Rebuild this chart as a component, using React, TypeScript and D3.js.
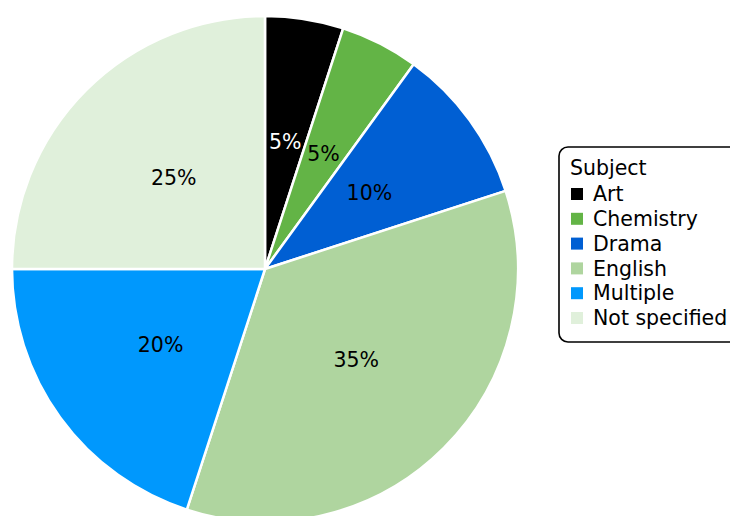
import React from "react";
import * as d3 from "d3";

const categories = ["Art", "Chemistry", "Drama", "English", "Multiple", "Not specified"];
const values = [5, 5, 10, 35, 20, 25];
const colors = ["#000000", "#63b446", "#005fd3", "#afd59f", "#0098fd", "#e0f0db"];
const labelColors = ["#ffffff", "#000000", "#000000", "#000000", "#000000", "#000000"];
const legendTitle = "Subject";

export default function App() {
  const W = 730, H = 516;
  const cx = 265, cy = 269, r = 253;
  const data = categories.map((c, i) => ({ c, v: values[i], i }));
  const pie = d3.pie<any>().value((d) => d.v).sort(null);
  const arcs = pie(data);
  const arc = d3.arc<any>().innerRadius(0).outerRadius(r);
  const labelArc = d3.arc<any>().innerRadius(r * 0.51).outerRadius(r * 0.51);
  const font = "'DejaVu Sans', sans-serif";
  const fs = 20.5;
  const lx = 559, ly = 147;
  return (
    <svg width={W} height={H} style={{ position: "absolute", left: 0, top: 0 }}>
      <g transform={`translate(${cx},${cy})`}>
        {arcs.map((a, i) => (
          <path key={i} d={arc(a) || ""} fill={colors[i]} stroke="#ffffff" strokeWidth={2.5} strokeLinejoin="round" />
        ))}
        {arcs.map((a, i) => {
          const [x, y] = labelArc.centroid(a);
          return (
            <text key={i} x={x} y={y} dy="0.35em" textAnchor="middle" fontFamily={font} fontSize={fs} fill={labelColors[i]}>
              {values[i]}%
            </text>
          );
        })}
      </g>
      <rect x={lx} y={ly} width={190} height={195} rx={9} ry={9} fill="#ffffff" stroke="#000000" strokeWidth={1.6} />
      <text x={570} y={175} fontFamily={font} fontSize={fs} fill="#000">{legendTitle}</text>
      {categories.map((c, i) => (
        <g key={c} transform={`translate(571, ${194 + i * 24.8})`}>
          <rect x={0} y={-6} width={12} height={12} fill={colors[i]} />
          <text x={22} y={0} dy="0.35em" fontFamily={font} fontSize={fs} fill="#000">{c}</text>
        </g>
      ))}
    </svg>
  );
}
